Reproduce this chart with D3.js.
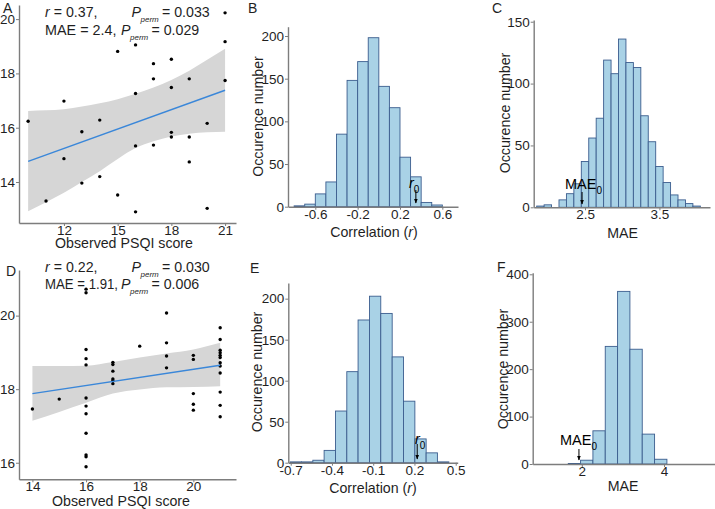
<!DOCTYPE html>
<html><head><meta charset="utf-8">
<script src="https://cdn.jsdelivr.net/npm/d3@7/dist/d3.min.js"></script>
<style>
body{margin:0;background:#fff;}
svg{display:block;font-family:"Liberation Sans",Arial,sans-serif;}
</style></head>
<body>
<svg id="c" width="715" height="509"></svg>
<script>
// ---------- DATA ----------
// Panel A scatter (observed PSQI vs predicted)
const scatterA_x = [10,11,12,12,13,13,14,14,15,15,16,16,16,16,17,17,17,18,18,18,18,19,19,19,20,20,21,21,21];
const scatterA_y = [16.24,13.30,16.98,14.86,15.85,13.96,16.28,14.20,18.81,13.52,19.05,17.26,15.33,12.90,18.36,17.80,15.36,18.52,17.48,15.83,15.66,17.80,15.66,14.74,16.16,13.03,20.23,19.17,17.74];
const fitA_x = [10,21];
const fitA_y = [14.76,17.38];
const bandA_x = [10,11,12,13,14,15,16,17,18,19,20,21];
const bandA_hi = [16.62,16.64,16.68,16.78,16.90,17.05,17.25,17.48,17.76,18.10,18.50,18.91];
const bandA_lo = [12.92,13.25,13.60,14.00,14.40,14.85,15.25,15.50,15.68,15.78,15.83,15.85];

// Panel D scatter
const scatterD_x = [14,15,16,16,16,16,16,16,16,16,16,16,16,16,17,17,17,17,17,17,18,19,19,19,19,20,20,20,20,20,21,21,21,21,21,21,21,21,21,21,21,21];
const scatterD_y = [17.46,17.73,20.72,20.62,19.08,18.83,18.66,17.76,17.54,17.33,16.80,16.21,16.16,15.89,18.73,18.67,18.49,18.28,18.23,18.15,19.17,20.07,19.26,18.90,18.58,18.92,18.81,17.88,17.59,17.43,19.67,19.35,19.06,18.99,18.92,18.86,18.72,18.63,18.44,17.92,17.56,17.25];
const fitD_x = [14,21];
const fitD_y = [17.88,18.65];
const bandD_x = [14,15,16,17,18,19,20,21];
const bandD_hi = [18.63,18.63,18.64,18.74,18.86,18.97,19.08,19.26];
const bandD_lo = [17.14,17.38,17.63,17.88,17.99,18.05,18.06,18.08];

// Panel B histogram: permuted correlations
const histB_edges = [-0.8,-0.7,-0.6,-0.5,-0.4,-0.3,-0.2,-0.1,0.0,0.1,0.2,0.3,0.4,0.5,0.6];
const histB_counts = [1,3,15,29,85,148,170,198,141,116,58,35,5,2];
// Panel C histogram: permuted MAE
const histC_edges = [1.85,1.95,2.05,2.15,2.25,2.35,2.45,2.55,2.65,2.75,2.85,2.95,3.05,3.15,3.25,3.35,3.45,3.55,3.65,3.75,3.85,3.95,4.05];
const histC_counts = [1,2,0,6,11,19,37,56,72,119,108,136,117,113,74,53,33,20,10,6,3,1];
// Panel E histogram
const histE_edges = [-0.704,-0.622,-0.539,-0.457,-0.374,-0.292,-0.210,-0.127,-0.045,0.038,0.120,0.203,0.285,0.367,0.450];
const histE_counts = [1,1,3,15,63,111,174,203,182,129,75,29,12,1];
// Panel F histogram
const histF_edges = [1.67,1.97,2.27,2.57,2.87,3.17,3.47,3.77,4.07];
const histF_counts = [1,8,70,248,364,242,63,10];

// Tick labels
const ticksA_x = [12,15,18,21], ticksA_y = [14,16,18,20];
const ticksD_x = [14,16,18,20], ticksD_y = [16,18,20];
const ticksB_x = [-0.6,-0.2,0.2,0.6], ticksB_y = [0,50,100,150,200];
const ticksC_x = [2.5,3.5], ticksC_y = [0,50,100,150];
const ticksE_x = [-0.7,-0.4,-0.1,0.2,0.5], ticksE_y = [0,50,100,150,200];
const ticksF_x = [2,4], ticksF_y = [0,100,200,300,400];

// Observed values marked by arrows
const obsB = 0.35, obsC = 2.46, obsE = 0.22, obsF = 1.93;

// ---------- DRAW ----------
const svg = d3.select("#c");
const AXIS = "#7d7d7d", TXT = "#1f1f1f";
const BAR_FILL = "#a9d2e6", BAR_STROKE = "#3b5d8e";
const BAND = "#d6d6d6", LINE = "#3a87d9";

svg.append("defs").append("marker").attr("id","ah")
  .attr("viewBox","0 0 10 10").attr("refX",9).attr("refY",5)
  .attr("markerWidth",5).attr("markerHeight",5).attr("orient","auto")
  .append("path").attr("d","M0,1 L10,5 L0,9 Z").attr("fill","#000");

function axes(g, x, y, xt, yt, fmtx, fmty){
  const ax = g.append("g").attr("transform",`translate(0,${y.range()[0]})`)
    .call(d3.axisBottom(x).tickValues(xt).tickSize(3).tickSizeOuter(0).tickPadding(-0.5).tickFormat(fmtx||(d=>d)));
  const ay = g.append("g").attr("transform",`translate(${x.range()[0]},0)`)
    .call(d3.axisLeft(y).tickValues(yt).tickSize(3).tickSizeOuter(0).tickPadding(1).tickFormat(fmty||(d=>d)));
  [ax,ay].forEach(a=>{
    a.select(".domain").attr("stroke",AXIS).attr("stroke-width",1.4);
    a.selectAll(".tick line").attr("stroke",AXIS).attr("stroke-width",1);
    a.selectAll(".tick text").attr("fill",TXT).style("font-size","13.5px").style("font-family","Liberation Sans, Arial, sans-serif");
  });
}

function label(t, x, y, size){
  return svg.append("text").attr("x",x).attr("y",y).attr("fill",TXT)
    .style("font-size",(size||14.5)+"px").text(t);
}
function ytitle(t, x, y){
  svg.append("text").attr("transform",`translate(${x},${y}) rotate(-90)`)
    .attr("text-anchor","middle").attr("fill",TXT).style("font-size","14.2px").text(t);
}
function xtitle(t, x, y, italicPart){
  const tx = svg.append("text").attr("x",x).attr("y",y).attr("text-anchor","middle")
    .attr("fill",TXT).style("font-size","14.2px");
  if(italicPart){
    tx.append("tspan").text(t);
    tx.append("tspan").style("font-style","italic").text(italicPart);
    tx.append("tspan").text(")");
  } else tx.text(t);
}

function scatter(cfg){
  const g = svg.append("g");
  const x = d3.scaleLinear().domain(cfg.xd).range([cfg.l, cfg.r]);
  const y = d3.scaleLinear().domain(cfg.yd).range([cfg.b, cfg.t]);
  const band = cfg.bx.map((v,i)=>({x:v,hi:cfg.bhi[i],lo:cfg.blo[i]}));
  g.append("path").datum(band)
    .attr("d",d3.area().x(d=>x(d.x)).y0(d=>y(d.lo)).y1(d=>y(d.hi)).curve(d3.curveMonotoneX))
    .attr("fill",BAND);
  g.selectAll("circle").data(cfg.px.map((v,i)=>[v,cfg.py[i]])).join("circle")
    .attr("cx",d=>x(d[0])).attr("cy",d=>y(d[1])).attr("r",1.7).attr("fill","#000");
  g.append("path").datum(cfg.fx.map((v,i)=>[v,cfg.fy[i]]))
    .attr("d",d3.line().x(d=>x(d[0])).y(d=>y(d[1])))
    .attr("fill","none").attr("stroke",LINE).attr("stroke-width",1.4);
  axes(g,x,y,cfg.xt,cfg.yt);
}

function hist(cfg){
  const g = svg.append("g");
  const x = d3.scaleLinear().domain(cfg.xd).range([cfg.l, cfg.r]);
  const y = d3.scaleLinear().domain(cfg.yd).range([cfg.b, cfg.t]);
  const bins = cfg.counts.map((c,i)=>({x0:cfg.edges[i],x1:cfg.edges[i+1],c}));
  g.selectAll("rect").data(bins.filter(d=>d.c>0)).join("rect")
    .attr("x",d=>x(d.x0)).attr("width",d=>x(d.x1)-x(d.x0))
    .attr("y",d=>y(d.c)).attr("height",d=>y(0)-y(d.c))
    .attr("fill",BAR_FILL).attr("stroke",BAR_STROKE).attr("stroke-width",0.9);
  axes(g,x,y,cfg.xt,cfg.yt,cfg.fmtx);
  const ax = x(cfg.obs);
  g.append("line").attr("x1",ax).attr("x2",ax).attr("y1",cfg.ay1).attr("y2",cfg.ay2)
    .attr("stroke","#000").attr("stroke-width",1).attr("marker-end","url(#ah)");
  return {x,y};
}

// Panel A
scatter({l:19,r:236,t:5,b:223,xd:[9.49,21.61],yd:[12.49,20.52],
  px:scatterA_x,py:scatterA_y,fx:fitA_x,fy:fitA_y,bx:bandA_x,bhi:bandA_hi,blo:bandA_lo,
  xt:ticksA_x,yt:ticksA_y});
// Panel D
scatter({l:19,r:236,t:270,b:479.3,xd:[13.5,21.59],yd:[15.55,21.24],
  px:scatterD_x,py:scatterD_y,fx:fitD_x,fy:fitD_y,bx:bandD_x,bhi:bandD_hi,blo:bandD_lo,
  xt:ticksD_x,yt:ticksD_y});

const f1 = d=>d3.format(".1f")(d).replace("−","-");
// Panel B
hist({l:288,r:458,t:26.7,b:206.7,xd:[-0.858,0.748],yd:[0,210.9],
  edges:histB_edges,counts:histB_counts,xt:ticksB_x,yt:ticksB_y,fmtx:f1,obs:obsB,ay1:190,ay2:203});
// Panel C
hist({l:533.7,r:710,t:20,b:207.3,xd:[1.81,4.18],yd:[0,151.4],
  edges:histC_edges,counts:histC_counts,xt:ticksC_x,yt:ticksC_y,fmtx:f1,obs:obsC,ay1:192,ay2:204});
// Panel E
hist({l:288.3,r:457.7,t:283,b:462.7,xd:[-0.7175,0.5145],yd:[0,219.1],
  edges:histE_edges,counts:histE_counts,xt:ticksE_x,yt:ticksE_y,fmtx:f1,obs:obsE,ay1:444,ay2:459});
// Panel F
hist({l:532.7,r:715,t:272.7,b:464,xd:[0.805,5.24],yd:[0,403.4],
  edges:histF_edges,counts:histF_counts,xt:ticksF_x,yt:ticksF_y,obs:obsF,ay1:449,ay2:460});

// Arrow labels
function sublabel(main, sub, x, y, italic){
  const t = svg.append("text").attr("x",x).attr("y",y).attr("fill","#000").style("font-size","14.5px");
  t.append("tspan").style("font-style",italic?"italic":"normal").text(main);
  t.append("tspan").attr("dy",5).style("font-size","10px").text(sub);
}
sublabel("r","0",409,188,true);
sublabel("MAE","0",565,188.5,false);
sublabel("r","0",415,443.5,true);
sublabel("MAE","0",560,445,false);

// Panel letters
label("A",3,12.5,14);
label("B",248,13,14);
label("C",492,12.5,14);
label("D",6,276,14);
label("E",250,273,14);
label("F",497,272,14);

// Axis titles
xtitle("Observed PSQI score",124,248);
xtitle("Observed PSQI score",121,506);
xtitle("Correlation (",374,236.5,"r");
xtitle("Correlation (",373,492.5,"r");
xtitle("MAE",622.5,237.5);
xtitle("MAE",623,491);
ytitle("Occurence number",262.5,116.5);
ytitle("Occurence number",510,113);
ytitle("Occurence number",261.5,372);
ytitle("Occurence number",507.5,369);

// Stat annotations
function stat(rVal, p1, maeTxt, maeLen, p2, base){
  const FS = "14.2px";
  const t1 = svg.append("text").attr("x",45).attr("y",base).attr("fill",TXT).style("font-size",FS);
  t1.append("tspan").style("font-style","italic").text("r");
  t1.append("tspan").text(" = "+rVal+",");
  const pp = (x,y,val)=>{
    svg.append("text").attr("x",x).attr("y",y).attr("fill",TXT).style("font-size",FS).style("font-style","italic").text("P");
    svg.append("text").attr("x",x+9).attr("y",y+5).attr("fill",TXT).style("font-size","8px").style("font-style","italic").text("perm");
    svg.append("text").attr("x",x+30.5).attr("y",y).attr("fill",TXT).style("font-size",FS).text("= "+val);
  };
  pp(131.5,base,p1);
  svg.append("text").attr("x",45).attr("y",base+17.3).attr("fill",TXT).style("font-size",FS)
    .attr("textLength",maeLen).attr("lengthAdjust","spacingAndGlyphs").text(maeTxt);
  pp(121,base+17.3,p2);
}
stat("0.37","0.033","MAE = 2.4,",71.5,"0.029",17.3);
stat("0.22","0.030","MAE = 1.91,",73,"0.006",271.7);
</script>
</body></html>
